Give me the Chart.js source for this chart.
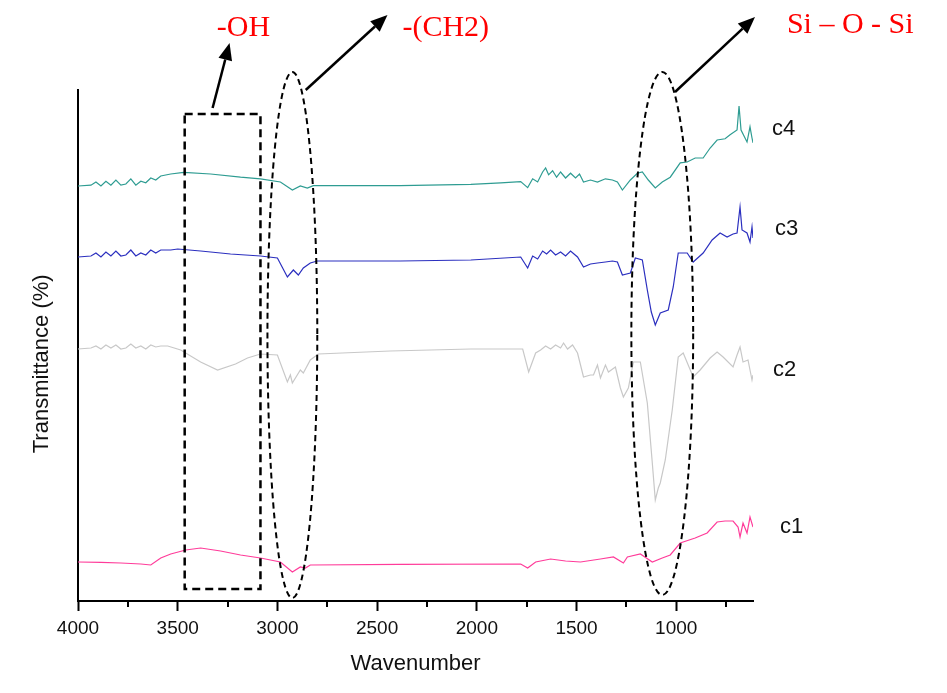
<!DOCTYPE html>
<html>
<head>
<meta charset="utf-8">
<script src="https://cdn.jsdelivr.net/npm/chart.js@4"></script>
<style>
  html, body { margin: 0; padding: 0; background: #fff; }
  #wrap { width: 947px; height: 693px; }
</style>
</head>
<body>
<div id="wrap"><canvas id="ftir" width="947" height="693"></canvas></div>
<script>
// FTIR spectra, wavenumber (cm-1) vs transmittance (offset, arbitrary %)
const c4Wn = [4000,3935,3910,3885,3860,3835,3810,3785,3760,3735,3710,3685,3660,3635,3610,3585,3535,3470,3335,3185,3085,2985,2925,2885,2850,2820,2385,2030,1880,1780,1745,1720,1695,1670,1655,1640,1620,1600,1580,1555,1530,1505,1485,1465,1430,1395,1355,1320,1295,1270,1230,1195,1170,1140,1105,1070,1030,980,945,905,865,830,795,755,730,695,685,675,655,645,630,620,615];
const c4T = [103,103.2,104,103,104.2,103.2,104.5,103.2,103.5,104.8,103.2,104.2,103.8,105,104.5,105.5,106,106.4,106,105.2,104.8,104,102,103,102.5,103.1,103.1,103.4,103.8,104.1,102.6,104.8,104,106.5,107.5,105.8,106.8,105.2,106.5,105,106.2,105,106,104,104.5,104,104.8,104.5,104,102,104.5,106.2,106.5,104.5,102.5,104,105.2,108.8,109,110,110,112.5,114.5,114.8,115.8,117,123,117,115,114,117.8,115,113.8];

const c3Wn = [4000,3935,3910,3885,3860,3835,3810,3785,3760,3735,3710,3685,3660,3635,3610,3585,3535,3500,3385,3235,3085,3000,2950,2920,2895,2870,2835,2800,2385,2030,1780,1745,1720,1695,1670,1650,1630,1605,1580,1555,1530,1495,1465,1430,1395,1355,1320,1295,1270,1230,1205,1170,1145,1125,1105,1080,1040,1015,990,945,915,865,820,780,745,715,695,680,670,645,630,620,615];
const c3T = [85.25,85.5,86.25,85.25,86.5,85.5,86.75,85.5,85.75,87,85.5,86.25,85.75,87,86.25,87,87,87.25,86.75,86,85.5,85,80.25,82,80.75,82.5,83.75,84.25,84.25,84.5,85.25,82.5,85.5,84.75,86.75,86,87,85.75,86.5,85.5,86.75,85.25,82.75,83.5,83.75,84,84.25,84,80.75,81.25,85,84.5,77,71.5,68.25,71.25,72,77.75,86.25,86.25,84,86.25,89.5,91.25,90.25,91,91.25,97.75,92,91.25,89,92.75,90];

const c2Wn = [4000,3935,3910,3885,3860,3835,3810,3785,3760,3735,3710,3685,3660,3635,3610,3585,3550,3485,3385,3300,3210,3150,3085,3000,2950,2935,2925,2885,2870,2835,2795,2435,2030,1770,1740,1705,1680,1655,1630,1605,1580,1565,1545,1520,1495,1465,1430,1415,1395,1380,1355,1340,1305,1280,1265,1240,1215,1180,1145,1120,1105,1090,1080,1055,1020,990,965,915,880,830,795,765,715,695,680,665,640,620,615];
const c2T = [62.25,62.5,63,62.25,63.25,62.5,63.25,62.25,62.5,63.5,62.5,63,62.25,63.25,62.75,63,63,62,59,57,58.5,60,61,60.75,54,55.75,53.75,57,56.25,59.5,61,61.75,62.25,62.25,56.5,61.25,62,63,62.25,63.25,62.5,63.75,62.25,63.25,61.25,55.25,55.75,55.75,58.25,55,58.25,56.5,57.75,52.5,50.25,52.5,59,59,48.75,33.75,24.5,27.5,28.75,34.5,47,60.25,61.25,55.25,57,60,61.5,60.25,57.75,60.75,62.75,59,59.5,54.5,55.75];

const c1Wn = [4000,3885,3785,3685,3635,3585,3535,3460,3385,3285,3185,3085,2985,2925,2885,2860,2835,2385,1780,1745,1705,1630,1555,1480,1380,1315,1265,1245,1180,1120,1070,1030,980,905,845,795,755,715,690,680,665,645,630,615];
const c1T = [9,8.9,8.75,8.5,8.25,10,11,12,12.5,11.75,10.75,10,9,6.5,7.75,7.5,8.25,8.4,8.5,7.5,9,9.75,9.25,9,9.75,10.25,8.75,10.25,11,9,10,10.75,13.75,15,16.25,19,19.25,19.25,17.75,15.25,18.75,16.25,20.25,17.75];

const xTicks = [4000, 3500, 3000, 2500, 2000, 1500, 1000];
const xMinorTicks = [3750, 3250, 2750, 2250, 1750, 1250, 750];
const seriesNames = ['c4', 'c3', 'c2', 'c1'];
const seriesColors = ['#2e9c92', '#2b2fbf', '#c8c8c8', '#ff3c9a'];

function pts(wn, t) {
  return wn.map((w, i) => ({x: w, y: t[i]}));
}

function arrow(ctx, x0, y0, x1, y1) {
  const a = Math.atan2(y1 - y0, x1 - x0);
  const len = 17, hw = 7;
  const bx = x1 - len * Math.cos(a), by = y1 - len * Math.sin(a);
  ctx.beginPath();
  ctx.moveTo(x0, y0);
  ctx.lineTo(bx, by);
  ctx.stroke();
  ctx.beginPath();
  ctx.moveTo(x1, y1);
  ctx.lineTo(bx + hw * Math.sin(a), by - hw * Math.cos(a));
  ctx.lineTo(bx - hw * Math.sin(a), by + hw * Math.cos(a));
  ctx.closePath();
  ctx.fill();
}

// dashed markers, arrows and labels, placed in wavenumber / transmittance units
const overlay = {
  id: 'overlay',
  afterDraw(chart) {
    const {ctx, chartArea, scales: {x, y}} = chart;
    ctx.save();

    // minor ticks
    ctx.strokeStyle = '#000';
    ctx.lineWidth = 2;
    xMinorTicks.forEach(v => {
      const px = Math.round(x.getPixelForValue(v));
      ctx.beginPath();
      ctx.moveTo(px, chartArea.bottom);
      ctx.lineTo(px, chartArea.bottom + 6);
      ctx.stroke();
    });

    // -OH box
    ctx.lineWidth = 2.5;
    ctx.setLineDash([8, 5]);
    const l = x.getPixelForValue(3465), r = x.getPixelForValue(3085);
    const t = y.getPixelForValue(121), b = y.getPixelForValue(2.25);
    ctx.strokeRect(l, t, r - l, b - t);

    // ellipses
    ctx.lineWidth = 2;
    ctx.setLineDash([6, 4]);
    [[2925, 125, 131.5, 0], [1070, 155, 131.5, 0.75]].forEach(([c, half, top, bot]) => {
      const cx = x.getPixelForValue(c);
      const rx = Math.abs(x.getPixelForValue(c - half) - cx);
      const yt = y.getPixelForValue(top), yb = y.getPixelForValue(bot);
      ctx.beginPath();
      ctx.ellipse(cx, (yt + yb) / 2, rx, (yb - yt) / 2, 0, 0, Math.PI * 2);
      ctx.stroke();
    });

    // arrows
    ctx.setLineDash([]);
    ctx.lineWidth = 2.5;
    ctx.fillStyle = '#000';
    [[3325, 122.5, 3240, 138.75], [2858, 127, 2448, 145.75], [1006, 126.5, 605, 145.25]].forEach(([a, b1, c, d]) => {
      arrow(ctx, x.getPixelForValue(a), y.getPixelForValue(b1), x.getPixelForValue(c), y.getPixelForValue(d));
    });

    // group labels
    ctx.fillStyle = '#ff0000';
    ctx.font = '30px "Liberation Serif", "Times New Roman", serif';
    ctx.textAlign = 'left';
    ctx.textBaseline = 'alphabetic';
    [['-OH', 3304, 140.5], ['-(CH2)', 2373, 140.5], ['Si \u2013 O - Si', 445, 141.25]].forEach(([txt, w, v]) => {
      ctx.fillText(txt, x.getPixelForValue(w), y.getPixelForValue(v));
    });

    // series names
    ctx.fillStyle = '#111';
    ctx.font = '22px "Liberation Sans", Arial, sans-serif';
    ctx.textBaseline = 'middle';
    [[0, 117.25, 19], [1, 92.25, 22], [2, 57, 20], [3, 17.75, 27]].forEach(([i, v, dx]) => {
      ctx.fillText(seriesNames[i], chartArea.right + dx, y.getPixelForValue(v));
    });

    ctx.restore();
  }
};

Chart.defaults.font.family = '"Liberation Sans", Arial, sans-serif';

new Chart(document.getElementById('ftir'), {
  type: 'line',
  data: {
    datasets: [
      {label: 'c4', data: pts(c4Wn, c4T), borderColor: seriesColors[0]},
      {label: 'c3', data: pts(c3Wn, c3T), borderColor: seriesColors[1]},
      {label: 'c2', data: pts(c2Wn, c2T), borderColor: seriesColors[2]},
      {label: 'c1', data: pts(c1Wn, c1T), borderColor: seriesColors[3]}
    ]
  },
  options: {
    responsive: false,
    animation: false,
    devicePixelRatio: 1,
    layout: {padding: {left: 0, top: 90, right: 194, bottom: 0}},
    elements: {
      line: {borderWidth: 1.2, tension: 0},
      point: {radius: 0}
    },
    plugins: {legend: {display: false}, tooltip: {enabled: false}},
    scales: {
      x: {
        type: 'linear',
        reverse: true,
        min: 615,
        max: 4000,
        afterBuildTicks: s => { s.ticks = xTicks.map(v => ({value: v})); },
        afterFit: s => { s.height = 92; },
        grid: {drawOnChartArea: false, drawTicks: true, tickLength: 10, tickWidth: 2, tickColor: '#000'},
        border: {display: true, color: '#000', width: 2},
        ticks: {color: '#111', font: {size: 19}, padding: 6, maxRotation: 0, callback: v => String(v)},
        title: {display: true, text: 'Wavenumber', color: '#111', font: {size: 22}, padding: {top: 0, bottom: 16}}
      },
      y: {
        min: -0.75,
        max: 127,
        afterFit: s => { s.width = 78; },
        grid: {drawOnChartArea: false, drawTicks: false},
        border: {display: true, color: '#000', width: 2},
        ticks: {display: false},
        // trailing spaces move the visible words down to where the original sits
        title: {display: true, text: 'Transmittance (%)      ', color: '#111', font: {size: 22}, padding: {top: 29, bottom: 0}}
      }
    }
  },
  plugins: [overlay]
});
</script>
</body>
</html>
